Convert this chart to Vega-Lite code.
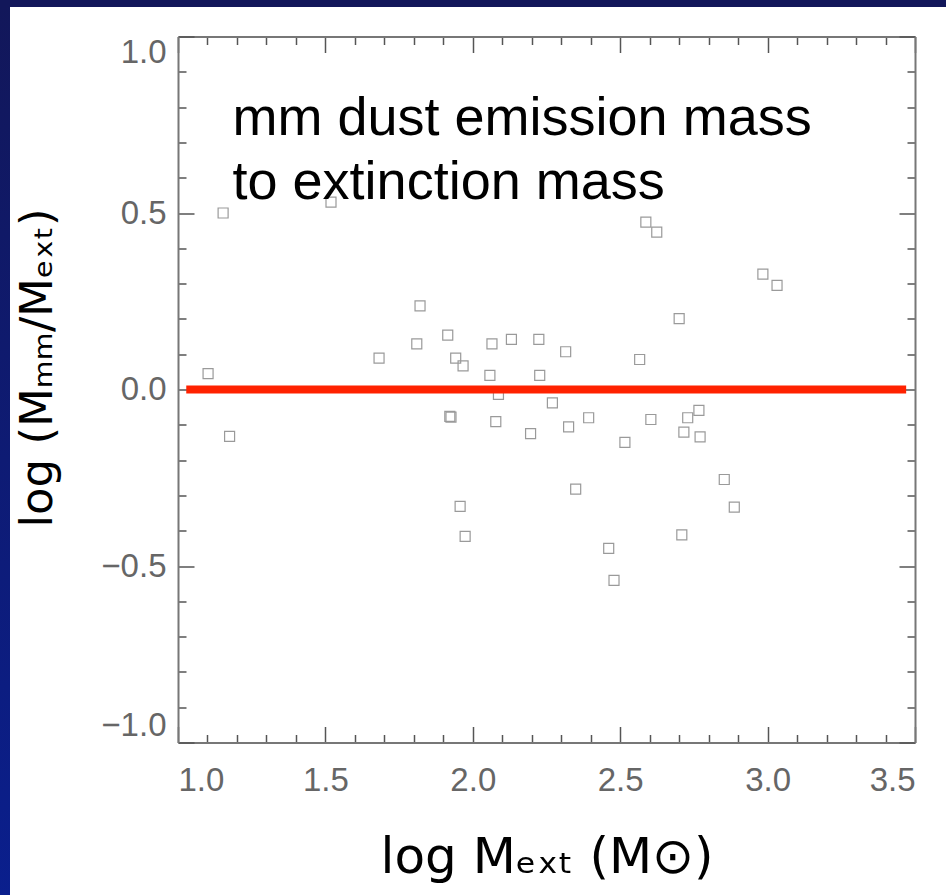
{
  "$schema": "https://vega.github.io/schema/vega-lite/v6.json",
  "background": "white",
  "padding": 0,
  "spacing": 0,
  "config": {"view": {"stroke": null}},
  "datasets": {
    "strip": [{"panel": "frame"}],
    "points": [
      {"logMext": 1.102, "logRatio": 0.045},
      {"logMext": 1.153, "logRatio": 0.500},
      {"logMext": 1.175, "logRatio": -0.133},
      {"logMext": 1.519, "logRatio": 0.531},
      {"logMext": 1.682, "logRatio": 0.089},
      {"logMext": 1.821, "logRatio": 0.237},
      {"logMext": 1.810, "logRatio": 0.129},
      {"logMext": 1.915, "logRatio": 0.154},
      {"logMext": 1.942, "logRatio": 0.089},
      {"logMext": 1.967, "logRatio": 0.067},
      {"logMext": 2.065, "logRatio": 0.129},
      {"logMext": 2.131, "logRatio": 0.142},
      {"logMext": 2.058, "logRatio": 0.040},
      {"logMext": 2.087, "logRatio": -0.014},
      {"logMext": 1.922, "logRatio": -0.076},
      {"logMext": 1.926, "logRatio": -0.078},
      {"logMext": 2.078, "logRatio": -0.091},
      {"logMext": 2.224, "logRatio": 0.142},
      {"logMext": 2.315, "logRatio": 0.107},
      {"logMext": 2.566, "logRatio": 0.085},
      {"logMext": 2.227, "logRatio": 0.040},
      {"logMext": 2.270, "logRatio": -0.038},
      {"logMext": 2.393, "logRatio": -0.080},
      {"logMext": 2.604, "logRatio": -0.085},
      {"logMext": 2.767, "logRatio": -0.059},
      {"logMext": 2.729, "logRatio": -0.080},
      {"logMext": 2.196, "logRatio": -0.125},
      {"logMext": 2.325, "logRatio": -0.106},
      {"logMext": 2.716, "logRatio": -0.121},
      {"logMext": 2.771, "logRatio": -0.134},
      {"logMext": 2.516, "logRatio": -0.150},
      {"logMext": 2.853, "logRatio": -0.255},
      {"logMext": 2.349, "logRatio": -0.282},
      {"logMext": 2.887, "logRatio": -0.333},
      {"logMext": 1.957, "logRatio": -0.331},
      {"logMext": 1.974, "logRatio": -0.416},
      {"logMext": 2.709, "logRatio": -0.412},
      {"logMext": 2.461, "logRatio": -0.450},
      {"logMext": 2.479, "logRatio": -0.541},
      {"logMext": 2.587, "logRatio": 0.474},
      {"logMext": 2.624, "logRatio": 0.446},
      {"logMext": 2.984, "logRatio": 0.327},
      {"logMext": 3.032, "logRatio": 0.295},
      {"logMext": 2.700, "logRatio": 0.201}
    ],
    "zero": [
      {"logMext": 1.028, "logRatio": 0},
      {"logMext": 3.47, "logRatio": 0}
    ],
    "note": [
      {"logMext": 1.185, "logRatio": 0.72, "label": "mm dust emission mass\nto extinction mass"}
    ]
  },
  "vconcat": [
    {
      "width": 946,
      "height": 7,
      "data": {"name": "strip"},
      "mark": {"type": "rect", "color": "#12175a"}
    },
    {
      "hconcat": [
        {
          "width": 10,
          "height": 905,
          "data": {"name": "strip"},
          "mark": {
            "type": "rect",
            "color": {
              "gradient": "linear",
              "x1": 0, "y1": 0, "x2": 0, "y2": 1,
              "stops": [
                {"offset": 0, "color": "#12175a"},
                {"offset": 1, "color": "#0a1f8e"}
              ]
            }
          }
        },
        {
          "width": 737,
          "height": 706,
          "resolve": {"axis": {"x": "independent", "y": "independent"}},
          "layer": [
            {
              "data": {"name": "points"},
              "mark": {"type": "point", "shape": "square", "filled": false, "size": 100, "stroke": "#9a9a9a", "strokeWidth": 1.2, "opacity": 1},
              "encoding": {
                "x": {
                  "field": "logMext", "type": "quantitative",
                  "scale": {"domain": [1, 3.5], "nice": false, "zero": false},
                  "axis": {
                    "orient": "bottom",
                    "values": [1,1.1,1.2,1.3,1.4,1.5,1.6,1.7,1.8,1.9,2,2.1,2.2,2.3,2.4,2.5,2.6,2.7,2.8,2.9,3,3.1,3.2,3.3,3.4,3.5],
                    "tickSize": {"condition": {"test": "abs(datum.value*2 - round(datum.value*2)) < 1e-6", "value": -16}, "value": -8},
                    "labelExpr": "abs(datum.value*2 - round(datum.value*2)) < 1e-6 ? format(datum.value, '.1f') : ''",
                    "labelPadding": 38,
                    "labelOverlap": false,
                    "labelBound": false,
                    "labelFont": "Liberation Sans",
                    "labelFontSize": 33,
                    "labelColor": "#666666",
                    "domainColor": "#777777",
                    "domainWidth": 2,
                    "tickColor": "#555555",
                    "tickWidth": 1.5,
                    "grid": false,
                    "title": "log Mₑₓₜ (M⊙)",
                    "titleFont": "DejaVu Sans",
                    "titleFontSize": 50,
                    "titleFontWeight": "normal",
                    "titleColor": "#000000",
                    "titleBaseline": "alphabetic",
                    "titleY": 130
                  }
                },
                "y": {
                  "field": "logRatio", "type": "quantitative",
                  "scale": {"domain": [-1, 1], "nice": false, "zero": false},
                  "axis": {
                    "orient": "left",
                    "values": [-1,-0.9,-0.8,-0.7,-0.6,-0.5,-0.4,-0.3,-0.2,-0.1,0,0.1,0.2,0.3,0.4,0.5,0.6,0.7,0.8,0.9,1],
                    "tickSize": {"condition": {"test": "abs(datum.value*2 - round(datum.value*2)) < 1e-6", "value": -16}, "value": -8},
                    "labelExpr": "abs(datum.value*2 - round(datum.value*2)) < 1e-6 ? format(datum.value, '.1f') : ''",
                    "labelPadding": 28,
                    "labelFlush": true,
                    "labelOverlap": false,
                    "labelBound": false,
                    "labelFont": "Liberation Sans",
                    "labelFontSize": 33,
                    "labelColor": "#666666",
                    "domainColor": "#777777",
                    "domainWidth": 2,
                    "tickColor": "#555555",
                    "tickWidth": 1.5,
                    "grid": false,
                    "title": "log (Mₘₘ/Mₑₓₜ)",
                    "titleFont": "DejaVu Sans",
                    "titleFontSize": 45,
                    "titleFontWeight": "normal",
                    "titleColor": "#000000",
                    "titleBaseline": "alphabetic",
                    "titleAngle": 270,
                    "titleX": -127,
                    "titleY": 331
                  }
                }
              }
            },
            {
              "data": {"name": "zero"},
              "mark": {"type": "line", "color": "#ff2200", "strokeWidth": 8, "strokeCap": "butt"},
              "encoding": {
                "x": {
                  "field": "logMext", "type": "quantitative",
                  "axis": {
                    "orient": "top",
                    "values": [1,1.1,1.2,1.3,1.4,1.5,1.6,1.7,1.8,1.9,2,2.1,2.2,2.3,2.4,2.5,2.6,2.7,2.8,2.9,3,3.1,3.2,3.3,3.4,3.5],
                    "tickSize": {"condition": {"test": "abs(datum.value*2 - round(datum.value*2)) < 1e-6", "value": -16}, "value": -8},
                    "labels": false,
                    "domainColor": "#777777",
                    "domainWidth": 2,
                    "tickColor": "#555555",
                    "tickWidth": 1.5,
                    "grid": false,
                    "title": null
                  }
                },
                "y": {
                  "field": "logRatio", "type": "quantitative",
                  "axis": {
                    "orient": "right",
                    "values": [-1,-0.9,-0.8,-0.7,-0.6,-0.5,-0.4,-0.3,-0.2,-0.1,0,0.1,0.2,0.3,0.4,0.5,0.6,0.7,0.8,0.9,1],
                    "tickSize": {"condition": {"test": "abs(datum.value*2 - round(datum.value*2)) < 1e-6", "value": -16}, "value": -8},
                    "labels": false,
                    "domainColor": "#777777",
                    "domainWidth": 2,
                    "tickColor": "#555555",
                    "tickWidth": 1.5,
                    "grid": false,
                    "title": null
                  }
                }
              }
            },
            {
              "data": {"name": "note"},
              "mark": {"type": "text", "align": "left", "baseline": "alphabetic", "font": "Liberation Sans", "fontSize": 54, "lineHeight": 64, "lineBreak": "\n", "color": "#000000"},
              "encoding": {
                "x": {"field": "logMext", "type": "quantitative", "axis": null},
                "y": {"field": "logRatio", "type": "quantitative", "axis": null},
                "text": {"field": "label", "type": "nominal"}
              }
            }
          ]
        }
      ],
      "spacing": 5,
      "center": true
    }
  ]
}
